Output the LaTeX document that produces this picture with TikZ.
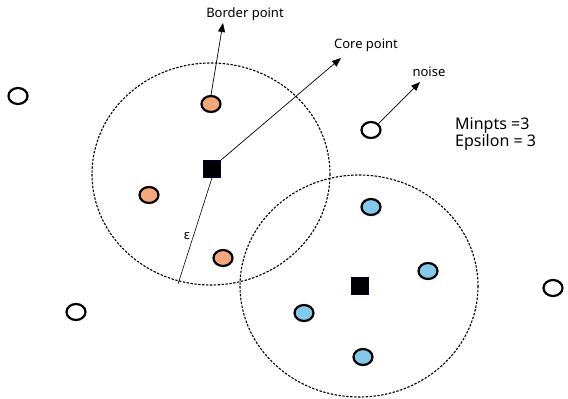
\documentclass[tikz,border=0pt]{standalone}
\usepackage{fontspec}
\setmainfont{Noto Sans}
\usetikzlibrary{arrows.meta,shapes.geometric}
\definecolor{borderfill}{HTML}{F4A67C}
\definecolor{corefill}{HTML}{84C8EA}
\tikzset{
  region/.style={draw, dashed, dash pattern=on 2.4pt off 1.5pt, line width=1.1pt},
  pt/.style={draw, ellipse, line width=2.2pt, minimum width=19pt, minimum height=16pt, inner sep=0pt},
  bpt/.style={pt, fill=borderfill},
  cpt/.style={pt, fill=corefill},
  npt/.style={pt, fill=white},
  corebox/.style={draw=black!80!blue, fill=black, minimum size=17pt, inner sep=0pt, line width=0.8pt},
  ptr/.style={line width=0.7pt, -{Triangle[length=9pt,width=7pt]}},
  lbl/.style={font=\fontsize{13}{15}\selectfont, inner sep=0pt}
}
\begin{document}
\begin{tikzpicture}[x=1pt,y=-1pt]
\useasboundingbox (0,0) rectangle (568,399);
% eps-neighbourhoods
\draw[region] (211,174) ellipse [x radius=119, y radius=111];
\draw[region] (359,286) ellipse [x radius=119, y radius=111];
% core points
\node[corebox] (c1) at (212,169) {};
\node[corebox] (c2) at (360,286) {};
% border points
\node[bpt] (b1) at (211,104) {};
\node[bpt] (b2) at (149,195) {};
\node[bpt] (b3) at (223,258) {};
% cluster members
\node[cpt] (m1) at (371,207) {};
\node[cpt] (m2) at (428,271) {};
\node[cpt] (m3) at (304,313) {};
\node[cpt] (m4) at (363,357) {};
% noise
\node[npt] (n1) at (18,96) {};
\node[npt] (n2) at (76,312) {};
\node[npt] (n3) at (371,130) {};
\node[npt] (n4) at (553,288) {};
% labels
\node[lbl] (lb) at (245,14) {Border point};
\node[lbl] (lc) at (366,45) {Core point};
\node[lbl] (ln) at (429,72) {noise};
\node[lbl, anchor=west, align=left, font=\fontsize{16}{17}\selectfont] (par) at (455,134) {Minpts =3\\Epsilon = 3};
% pointers
\coordinate (tb) at (223,23);
\coordinate (tc) at (341,58);
\coordinate (tn) at (420,82);
\coordinate (re) at (178,284);
\draw[ptr] (b1.north) -- (tb);
\draw[ptr] (c1.north east) -- (tc);
\draw[ptr] (n3.north east) -- (tn);
\draw[line width=0.6pt] (c1.south) -- (re) node[lbl, pos=0.55, left=3pt] (eps) {ε};
\end{tikzpicture}
\end{document}
